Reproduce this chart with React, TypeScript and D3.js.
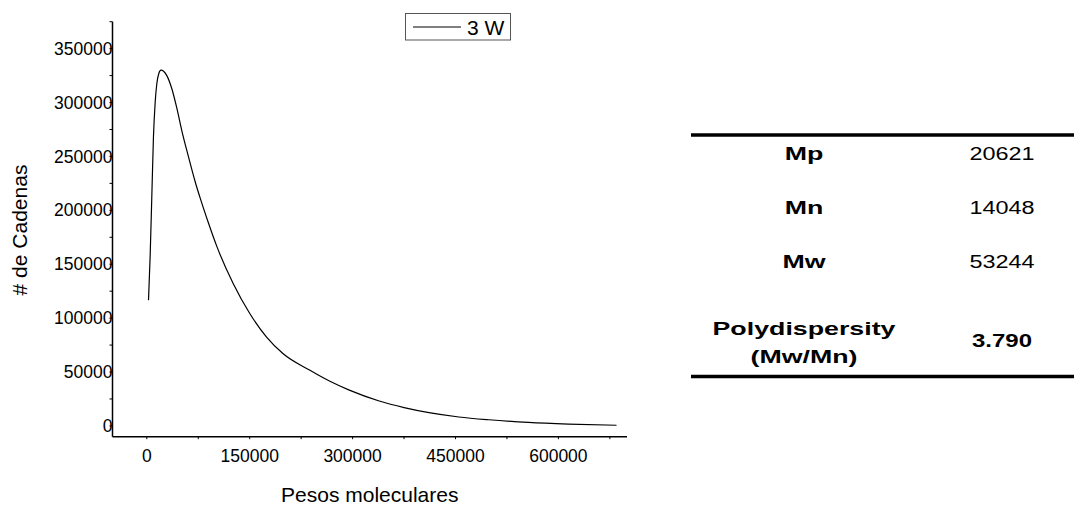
import React from "react";
import * as d3 from "d3";

// molecular weight distribution
const molWeights = [
  2500, 4900, 7400, 9700, 12200, 14500, 17500, 20600, 24500, 29200, 36400,
  43700, 51000, 60600, 70300, 77500, 90000, 101800, 125900, 150100, 174300,
  198400, 237200, 266200, 295200, 338800, 375100, 411400, 454900, 498500,
  556500, 614600, 684700,
];
const chainCounts = [
  116600, 158000, 215000, 268000, 300000, 317000, 327000, 330000, 329000,
  325000, 313000, 295000, 274000, 250000, 227000, 212000, 188000, 167000,
  132100, 104300, 82700, 67200, 51800, 41600, 33200, 23100, 17000, 12300,
  8300, 5700, 3200, 1700, 600,
];
const seriesName = "3 W";

const xTickLabels = [0, 150000, 300000, 450000, 600000];
const yTickLabels = [0, 50000, 100000, 150000, 200000, 250000, 300000, 350000];

const statLabels = [["Mp"], ["Mn"], ["Mw"], ["Polydispersity", "(Mw/Mn)"]];
const statValues = ["20621", "14048", "53244", "3.790"];

const FONT = "Liberation Sans, Arial, Helvetica, sans-serif";

export default function App() {
  const width = 1074;
  const height = 506;
  const left = 112.5;
  const right = 627;
  const top = 21.7;
  const bottom = 436.7;

  const x = d3.scaleLinear().domain([-50000, 700000]).range([left, right]);
  const y = d3.scaleLinear().domain([-10000, 375000]).range([bottom, top]);

  const line = d3
    .line<number>()
    .x((_, i) => x(molWeights[i]))
    .y((d) => y(d))
    .curve(d3.curveMonotoneX);

  const xMinor = d3.range(0, 700000, 75000);
  const yMinor = d3.range(0, 375001, 25000);

  // table layout
  const tableLeft = 691;
  const labelX = 804;
  const valueX = 1002;
  const rowBase = [160, 213.5, 267.5, 335];
  const ruleTop = 135;
  const ruleBottom = 376.5;

  return (
    <svg
      width={width}
      height={height}
      style={{ position: "absolute", left: 0, top: 0, background: "#fff" }}
      fontFamily={FONT}
    >
      {/* axes */}
      <line x1={left} x2={left} y1={top} y2={bottom} stroke="#000" strokeWidth={1.5} />
      <line x1={left} x2={right} y1={bottom} y2={bottom} stroke="#000" strokeWidth={1.5} />

      {yMinor.map((v) => (
        <line key={"yt" + v} x1={left - 3} x2={left} y1={y(v)} y2={y(v)} stroke="#000" strokeWidth={1} />
      ))}
      {xMinor.map((v) => (
        <line key={"xt" + v} x1={x(v)} x2={x(v)} y1={bottom} y2={bottom + 2.5} stroke="#000" strokeWidth={1} />
      ))}

      {yTickLabels.map((v) => (
        <text key={"yl" + v} x={left} y={y(v)} dy="0.35em" textAnchor="end" fontSize={17.5} fill="#000">
          {v}
        </text>
      ))}
      {xTickLabels.map((v) => (
        <text key={"xl" + v} x={x(v)} y={461.7} textAnchor="middle" fontSize={17.5} fill="#000">
          {v}
        </text>
      ))}

      <text x={(left + right) / 2} y={501.7} textAnchor="middle" fontSize={21} fill="#000">
        Pesos moleculares
      </text>
      <text
        transform="translate(26.5,230) rotate(-90)"
        textAnchor="middle"
        fontSize={21}
        fill="#000"
      >
        # de Cadenas
      </text>

      {/* curve */}
      <path d={line(chainCounts) || ""} fill="none" stroke="#000" strokeWidth={1.2} />

      {/* legend */}
      <rect x={405.5} y={13.5} width={105} height={26.5} fill="#fff" stroke="#555" strokeWidth={1} />
      <line x1={413} x2={461} y1={27} y2={27} stroke="#000" strokeWidth={1} />
      <text x={467} y={35} fontSize={21} fill="#000">
        {seriesName}
      </text>

      {/* stats table */}
      <line x1={tableLeft} x2={width} y1={ruleTop} y2={ruleTop} stroke="#000" strokeWidth={3.5} />
      <line x1={tableLeft} x2={width} y1={ruleBottom} y2={ruleBottom} stroke="#000" strokeWidth={3.5} />
      {statLabels.map((lines, i) => (
        <g key={"sl" + i}>
          {lines.map((t, j) => (
            <text
              key={t}
              transform={`translate(${labelX},${rowBase[i] + j * 27.7}) scale(1.44,1)`}
              textAnchor="middle"
              fontSize={18.6}
              fontWeight="bold"
              fill="#000"
            >
              {t}
            </text>
          ))}
        </g>
      ))}
      {statValues.map((v, i) => {
        const last = i === statValues.length - 1;
        const base = last ? 346.7 : rowBase[i];
        return (
          <text
            key={"sv" + i}
            transform={`translate(${valueX},${base}) scale(${last ? 1.29 : 1.26},1)`}
            textAnchor="middle"
            fontSize={18.6}
            fontWeight={last ? "bold" : "normal"}
            fill="#000"
          >
            {v}
          </text>
        );
      })}
    </svg>
  );
}
